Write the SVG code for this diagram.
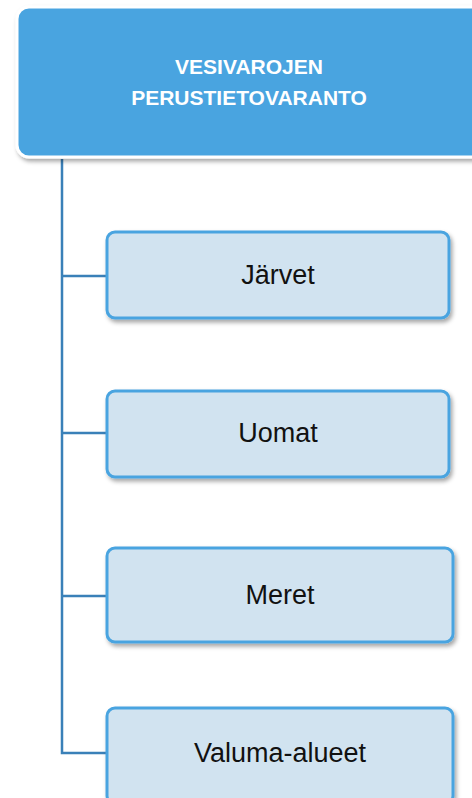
<svg xmlns="http://www.w3.org/2000/svg" width="472" height="798" viewBox="0 0 472 798">
<defs>
<filter id="sh" x="-10%" y="-10%" width="130%" height="140%">
<feDropShadow dx="2" dy="3" stdDeviation="2" flood-color="#000" flood-opacity="0.35"/>
</filter>
<style>
.root{fill:#4aa4e0;stroke:#ffffff;stroke-width:3;filter:url(#sh)}
.child{fill:#d1e3f0;stroke:#4aa4e0;stroke-width:3;filter:url(#sh)}
.rt{font-family:"Liberation Sans",Arial,sans-serif;font-weight:bold;font-size:21px;fill:#ffffff;text-anchor:middle}
.ct{font-family:"Liberation Sans",Arial,sans-serif;font-size:27px;fill:#111111;text-anchor:middle}
.conn{fill:none;stroke:#3a80b8;stroke-width:2.5}
</style>
</defs>
<rect width="472" height="798" fill="#ffffff"/>
<g id="connectors">
<path class="conn" d="M62 159 V753 H107"/>
<path class="conn" d="M62 276 H107"/>
<path class="conn" d="M62 433 H107"/>
<path class="conn" d="M62 596 H107"/>
</g>
<g id="root">
<rect class="root" x="17" y="7" width="470" height="150" rx="12"/>
<text class="rt" x="249" y="74">VESIVAROJEN</text>
<text class="rt" x="249" y="105">PERUSTIETOVARANTO</text>
</g>
<g id="jarvet">
<rect class="child" x="107" y="232" width="342" height="86" rx="8"/>
<text class="ct" x="278" y="284">Järvet</text>
</g>
<g id="uomat">
<rect class="child" x="107" y="391" width="342" height="86" rx="8"/>
<text class="ct" x="278" y="442">Uomat</text>
</g>
<g id="meret">
<rect class="child" x="107" y="548" width="346" height="94" rx="8"/>
<text class="ct" x="280" y="604">Meret</text>
</g>
<g id="valuma">
<rect class="child" x="107" y="708" width="346" height="96" rx="8"/>
<text class="ct" x="280" y="762">Valuma-alueet</text>
</g>
</svg>
